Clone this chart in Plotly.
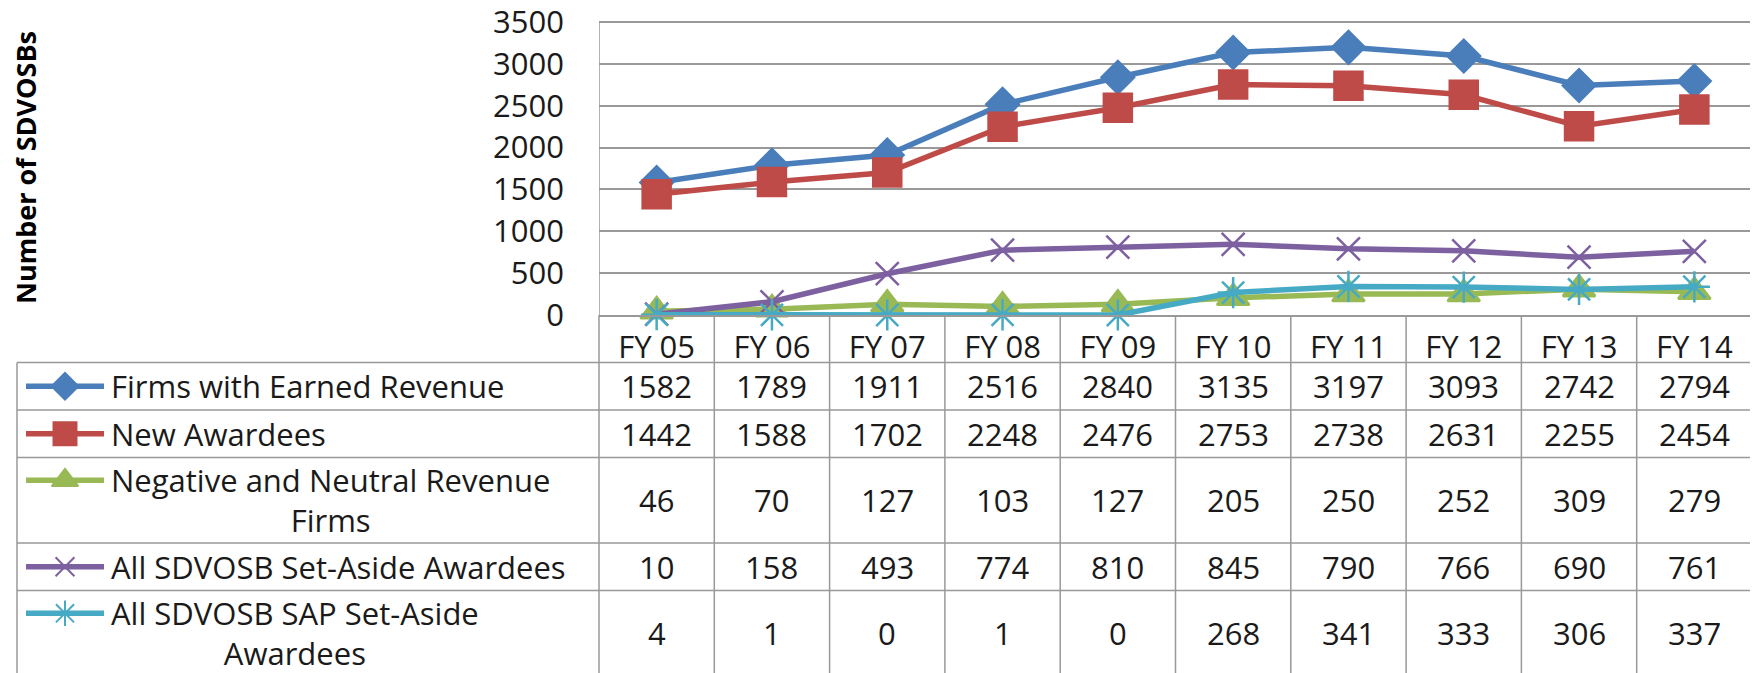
import plotly.graph_objects as go

# ---- data -------------------------------------------------------------
years = ["FY 05", "FY 06", "FY 07", "FY 08", "FY 09",
         "FY 10", "FY 11", "FY 12", "FY 13", "FY 14"]

firms_earned = [1582, 1789, 1911, 2516, 2840, 3135, 3197, 3093, 2742, 2794]
new_awardees = [1442, 1588, 1702, 2248, 2476, 2753, 2738, 2631, 2255, 2454]
neg_neutral = [46, 70, 127, 103, 127, 205, 250, 252, 309, 279]
set_aside = [10, 158, 493, 774, 810, 845, 790, 766, 690, 761]
sap_set_aside = [4, 1, 0, 1, 0, 268, 341, 333, 306, 337]

series_names = [
    "Firms with Earned Revenue",
    "New Awardees",
    "Negative and Neutral Revenue<br>Firms",
    "All SDVOSB Set-Aside Awardees",
    "All SDVOSB SAP Set-Aside<br>Awardees",
]
series_values = [firms_earned, new_awardees, neg_neutral, set_aside, sap_set_aside]

y_ticks = [0, 500, 1000, 1500, 2000, 2500, 3000, 3500]

# ---- styling ----------------------------------------------------------
colors = ["#4A7EBB", "#BE4B48", "#98B954", "#7D60A0", "#46AAC5"]
symbols = ["diamond", "square", "triangle-up", "x-thin-open", "asterisk-open"]
sizes = [25, 28, 28, 23, 26]
FONT = "Open Sans"
GRID = "#999999"
TEXT = "#1a1a1a"

# page geometry (screen pixels); the html body adds an 8px margin
W, H = 1758, 673
PAD = 8
FW, FH = W - PAD, H - PAD
PLOT_L, PLOT_R, PLOT_T, PLOT_B = 599, 1752, 22, 315
TABLE_L = 17
n = len(years)
COL_W = (PLOT_R - PLOT_L) / n
ROW_H = 47.5

y_max = y_ticks[-1]
y_top = y_max * 1.01
top_px = PLOT_B - (PLOT_B - PLOT_T) * y_top / y_max


def paper_x(p):
    return (p - PAD) / FW


def paper_y(p):
    return 1 - (p - PAD) / FH


def px_to_x2(p):
    return -0.5 + (p - PLOT_L) / COL_W


fig = go.Figure()

# chart lines
for vals, name, col, sym, sz in zip(series_values, series_names, colors, symbols, sizes):
    fig.add_trace(
        go.Scatter(
            x=years,
            y=vals,
            mode="lines+markers",
            name=name.replace("<br>", " "),
            line=dict(color=col, width=5.5),
            marker=dict(symbol=sym, size=sz, color=col,
                        line=dict(color=col, width=2.5)),
            xaxis="x",
            yaxis="y",
            cliponaxis=False,
        )
    )

# table geometry (in table units, one unit = one single-line row)
row_heights = [1.0 if "<br>" not in s else 1.8 for s in series_names]
bounds = [1.0]
for h in row_heights:
    bounds.append(bounds[-1] + h)

x_left = px_to_x2(TABLE_L)
key_x0, key_xm, key_x1 = px_to_x2(26), px_to_x2(65), px_to_x2(104)
text_x = px_to_x2(109)

shapes = []
line_style = dict(color=GRID, width=1.5)
for b in bounds:
    shapes.append(dict(type="line", xref="x2", yref="y2", x0=x_left, x1=n - 0.5,
                       y0=b, y1=b, line=line_style))
for k in range(n + 1):
    shapes.append(dict(type="line", xref="x2", yref="y2", x0=k - 0.5, x1=k - 0.5,
                       y0=0, y1=bounds[-1], line=line_style))
shapes.append(dict(type="line", xref="x2", yref="y2", x0=x_left, x1=x_left,
                   y0=bounds[0], y1=bounds[-1], line=line_style))
shapes.append(dict(type="line", xref="x", yref="y", x0=-0.5, x1=-0.5,
                   y0=0, y1=y_max, line=line_style))

annotations = []
for r, (vals, name, col, sym, sz) in enumerate(
        zip(series_values, series_names, colors, symbols, sizes)):
    center = (bounds[r] + bounds[r + 1]) / 2
    nlines = name.count("<br>") + 1
    key_y = center - (nlines - 1) * 0.42
    fig.add_trace(go.Scatter(x=[key_x0, key_x1], y=[key_y, key_y], mode="lines",
                             line=dict(color=col, width=5.5), xaxis="x2", yaxis="y2",
                             showlegend=False, hoverinfo="skip"))
    fig.add_trace(go.Scatter(x=[key_xm], y=[key_y], mode="markers",
                             marker=dict(symbol=sym, size=sz * 0.82, color=col,
                                         line=dict(color=col, width=2)),
                             xaxis="x2", yaxis="y2", showlegend=False, hoverinfo="skip"))
    annotations.append(dict(x=text_x, y=center, xref="x2", yref="y2", text=name,
                            showarrow=False, xanchor="left", yanchor="middle",
                            align="center", font=dict(family=FONT, size=31, color=TEXT)))
    for i, v in enumerate(vals):
        annotations.append(dict(x=i, y=center, xref="x2", yref="y2", text=str(v),
                                showarrow=False, xanchor="center", yanchor="middle",
                                font=dict(family=FONT, size=31, color=TEXT)))

annotations.append(dict(x=paper_x(25), y=paper_y(168), xref="paper", yref="paper",
                        text="<b>Number of SDVOSBs</b>", textangle=-90, showarrow=False,
                        xanchor="center", yanchor="middle",
                        font=dict(family=FONT, size=27, color="#000000")))

fig.update_layout(
    width=FW,
    height=FH,
    margin=dict(l=0, r=0, t=0, b=0, autoexpand=False),
    paper_bgcolor="white",
    plot_bgcolor="white",
    showlegend=False,
    font=dict(family=FONT, size=31, color=TEXT),
    xaxis=dict(
        domain=[paper_x(PLOT_L), paper_x(PLOT_R)],
        range=[-0.5, n - 0.5],
        type="category",
        showgrid=False,
        zeroline=False,
        showline=True,
        linecolor=GRID,
        linewidth=1.5,
        ticks="",
        automargin=False,
        ticklabelstandoff=4,
        tickfont=dict(family=FONT, size=31, color=TEXT),
    ),
    yaxis=dict(
        domain=[paper_y(PLOT_B), paper_y(top_px)],
        range=[0, y_top],
        tickvals=y_ticks,
        showgrid=True,
        gridcolor=GRID,
        gridwidth=1.5,
        zeroline=False,
        showline=False,
        ticks="",
        automargin=False,
        ticklabeloverflow="allow",
        ticklabelstandoff=34,
        tickfont=dict(family=FONT, size=31, color=TEXT),
    ),
    xaxis2=dict(
        domain=[0, 1],
        range=[px_to_x2(PAD), px_to_x2(W)],
        visible=False,
        anchor="y2",
    ),
    yaxis2=dict(
        domain=[0, paper_y(PLOT_B)],
        range=[(H - PLOT_B) / ROW_H, 0],
        visible=False,
        anchor="x2",
    ),
    shapes=shapes,
    annotations=annotations,
)

fig.write_html("out.html")
